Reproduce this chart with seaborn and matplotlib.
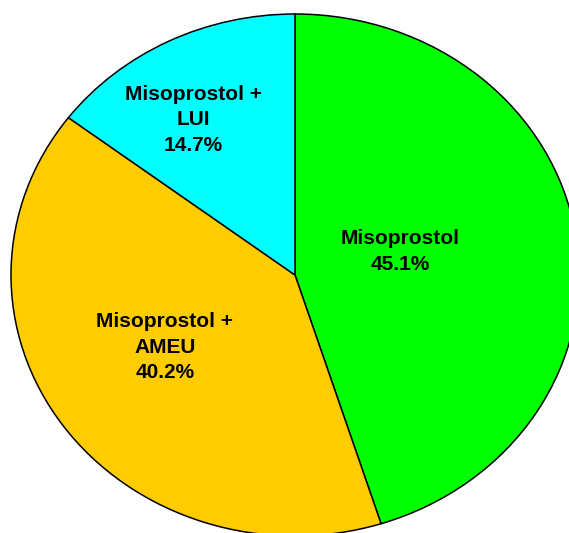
import matplotlib
matplotlib.use("Agg")
import matplotlib.pyplot as plt
import seaborn as sns

sns.set_theme(style="white")
plt.rcParams['font.family'] = ['Liberation Sans', 'DejaVu Sans']

categories = ["Misoprostol", "Misoprostol +\nAMEU", "Misoprostol +\nLUI"]
values = [45.1, 40.2, 14.7]
colors = ["#00FF00", "#FFCC00", "#00FFFF"]
label_pos = [(0.37, 0.09), (-0.458, -0.276), (-0.359, 0.594)]

fig = plt.figure(figsize=(5.69, 5.33), dpi=100)
ax = fig.add_axes([0, 0, 1, 1])
wedges, _ = ax.pie(values, colors=colors, startangle=90, counterclock=False,
                   wedgeprops=dict(edgecolor="black", linewidth=1.1))
ax.set_aspect('auto')
ax.set_xlim(-295 / 284, (569 - 295) / 284)
ax.set_ylim(-(533 - 275) / 261, 275 / 261)
ax.axis('off')

for cat, val, (x, y) in zip(categories, values, label_pos):
    ax.text(x, y, f"{cat}\n{val:.1f}%", ha="center", va="center",
            fontsize=15, fontweight="bold", color="black", linespacing=1.45)

fig.savefig("out.png", dpi=100)
